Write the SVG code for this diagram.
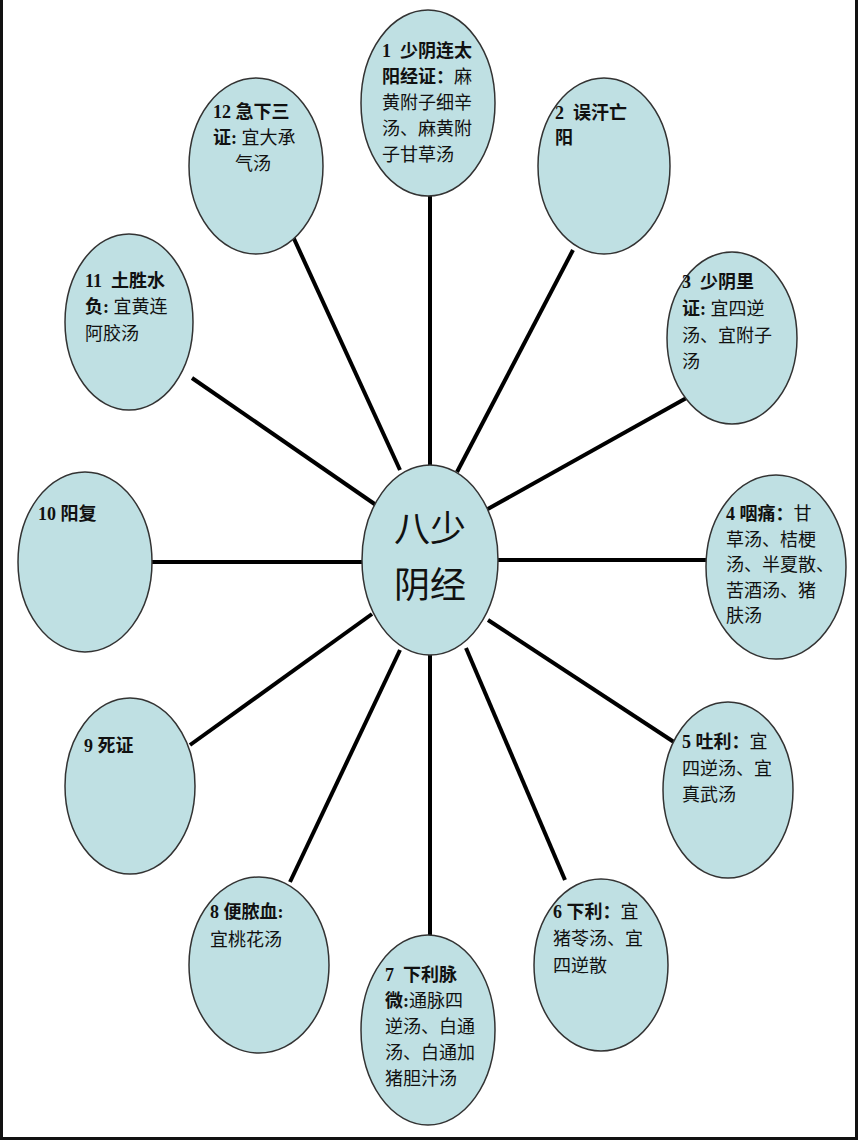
<svg xmlns="http://www.w3.org/2000/svg" width="858" height="1140" viewBox="0 0 858 1140">
<style>
.n{fill:#bfe0e3;stroke:#333;stroke-width:1.5}
.c line{stroke:#000;stroke-width:4}
text{font-family:"Liberation Serif","Noto Sans CJK SC",serif;font-size:18px;fill:#111}
.b{font-weight:bold}
.big{font-size:36px}
</style>
<rect x="0" y="0" width="858" height="1140" fill="#fff"/>
<g id="frame" fill="none" stroke="#111" stroke-width="3">
<path d="M1.5 0 V1138.5 H856.5 V0"/>
</g>
<g class="c" id="connectors">
<line x1="430" y1="196" x2="430" y2="466"/>
<line x1="573" y1="250" x2="457" y2="472"/>
<line x1="690" y1="396" x2="486" y2="510"/>
<line x1="706" y1="560" x2="498" y2="560"/>
<line x1="680" y1="746" x2="488" y2="620"/>
<line x1="565" y1="880" x2="466" y2="648"/>
<line x1="430" y1="655" x2="430" y2="936"/>
<line x1="290" y1="882" x2="400" y2="650"/>
<line x1="190" y1="745" x2="372" y2="614"/>
<line x1="152" y1="562" x2="362" y2="562"/>
<line x1="192" y1="378" x2="376" y2="505"/>
<line x1="290" y1="230" x2="400" y2="470"/>
</g>
<g id="center"><ellipse class="n" cx="430" cy="560" rx="68" ry="95"/>
<text class="big" x="394" y="542">八少</text><text class="big" x="394" y="598">阴经</text></g>
<g id="n1"><ellipse class="n" cx="428" cy="103" rx="67" ry="93"/>
<text x="382" y="57"><tspan class="b">1&#160;&#160;少阴连太</tspan><tspan x="382" dy="26" class="b">阳经证：</tspan>麻<tspan x="382" dy="26">黄附子细辛</tspan><tspan x="382" dy="26">汤、麻黄附</tspan><tspan x="382" dy="26">子甘草汤</tspan></text></g>
<g id="n2"><ellipse class="n" cx="604" cy="166" rx="66" ry="88"/>
<text class="b" x="555" y="119" font-size="20">2&#160;&#160;误汗亡<tspan x="555" dy="25">阳</tspan></text></g>
<g id="n3"><ellipse class="n" cx="732" cy="338" rx="65" ry="86"/>
<text x="682" y="288" font-size="19"><tspan class="b">3&#160;&#160;少阴里</tspan><tspan x="682" dy="27" class="b">证:</tspan> 宜四逆<tspan x="682" dy="27">汤、宜附子</tspan><tspan x="682" dy="26">汤</tspan></text></g>
<g id="n4"><ellipse class="n" cx="776" cy="567" rx="70" ry="92"/>
<text x="726" y="520"><tspan class="b">4 咽痛：</tspan>甘<tspan x="726" dy="25.5">草汤、桔梗</tspan><tspan x="726" dy="25.5">汤、半夏散、</tspan><tspan x="726" dy="25.5">苦酒汤、猪</tspan><tspan x="726" dy="25.5">肤汤</tspan></text></g>
<g id="n5"><ellipse class="n" cx="728" cy="790" rx="65" ry="88"/>
<text x="682" y="748"><tspan class="b">5 吐利：</tspan>宜<tspan x="682" dy="26.5">四逆汤、宜</tspan><tspan x="682" dy="26.5">真武汤</tspan></text></g>
<g id="n6"><ellipse class="n" cx="601" cy="965" rx="67" ry="86"/>
<text x="553" y="918"><tspan class="b">6 下利：</tspan>宜<tspan x="553" dy="27">猪苓汤、宜</tspan><tspan x="553" dy="27">四逆散</tspan></text></g>
<g id="n7"><ellipse class="n" cx="428" cy="1030" rx="67" ry="95"/>
<text x="385" y="981"><tspan class="b">7&#160;&#160;下利脉</tspan><tspan x="385" dy="26" class="b">微:</tspan>通脉四<tspan x="385" dy="26">逆汤、白通</tspan><tspan x="385" dy="26">汤、白通加</tspan><tspan x="385" dy="26">猪胆汁汤</tspan></text></g>
<g id="n8"><ellipse class="n" cx="259" cy="965" rx="70" ry="88"/>
<text x="210" y="918"><tspan class="b">8 便脓血:</tspan><tspan x="210" dy="28">宜桃花汤</tspan></text></g>
<g id="n9"><ellipse class="n" cx="130" cy="786" rx="65" ry="88"/>
<text class="b" x="84" y="752">9 死证</text></g>
<g id="n10"><ellipse class="n" cx="85" cy="562" rx="67" ry="90"/>
<text class="b" x="38" y="520">10 阳复</text></g>
<g id="n11"><ellipse class="n" cx="129" cy="322" rx="64" ry="88"/>
<text x="85" y="287"><tspan class="b">11&#160;&#160;土胜水</tspan><tspan x="85" dy="26" class="b">负:</tspan> 宜黄连<tspan x="85" dy="27">阿胶汤</tspan></text></g>
<g id="n12"><ellipse class="n" cx="256" cy="166" rx="67" ry="88"/>
<text x="213" y="118"><tspan class="b">12 急下三</tspan><tspan x="213" dy="26" class="b">证:</tspan> 宜大承<tspan x="235" dy="26">气汤</tspan></text></g>
</svg>
